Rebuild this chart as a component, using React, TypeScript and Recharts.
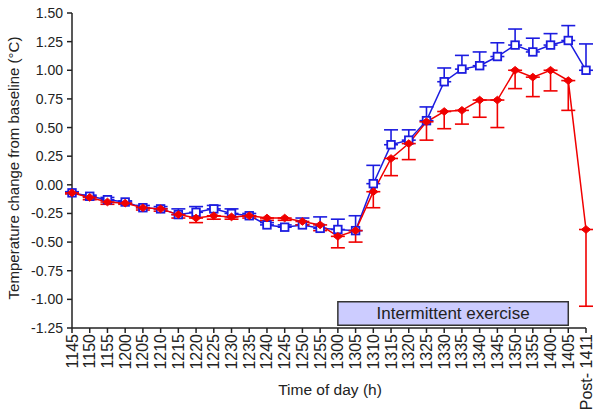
import React from "react";
import { LineChart, Line, XAxis, YAxis, ErrorBar, ReferenceArea } from "recharts";

const times = ["1145","1150","1155","1200","1205","1210","1215","1220","1225","1230","1235","1240","1245","1250","1255","1300","1305","1310","1315","1320","1325","1330","1335","1340","1345","1350","1355","1400","1405","Post- 1411"];

const blueMean = [-0.07,-0.10,-0.13,-0.15,-0.20,-0.21,-0.26,-0.24,-0.21,-0.25,-0.27,-0.35,-0.37,-0.35,-0.38,-0.39,-0.40,0.01,0.35,0.39,0.56,0.90,1.01,1.04,1.12,1.22,1.16,1.22,1.26,1.00];
const blueErrUp = [0.01,0.01,0.02,0.01,0.02,0.02,0.05,0.05,0.03,0.04,0.02,0.02,0.02,0.06,0.10,0.09,0.13,0.16,0.13,0.09,0.12,0.12,0.12,0.12,0.12,0.14,0.12,0.10,0.13,0.23];

const redMean = [-0.07,-0.11,-0.15,-0.16,-0.20,-0.21,-0.26,-0.29,-0.27,-0.28,-0.27,-0.29,-0.29,-0.32,-0.35,-0.45,-0.40,-0.06,0.23,0.36,0.55,0.64,0.65,0.74,0.74,1.00,0.94,1.00,0.91,-0.39];
const redErrDown = [0.01,0.02,0.02,0.01,0.02,0.02,0.03,0.04,0.03,0.02,0.02,0.02,0.02,0.03,0.05,0.10,0.10,0.14,0.15,0.14,0.16,0.15,0.12,0.15,0.24,0.16,0.17,0.18,0.26,0.67];

const yTicks = [1.5,1.25,1,0.75,0.5,0.25,0,-0.25,-0.5,-0.75,-1,-1.25];

const exerciseStart = "1300";
const exerciseEnd = "1405";
const exerciseLabel = "Intermittent exercise";

const BLUE = "#1c1ce0";
const RED = "#f00000";
const FONT = "'Liberation Sans', Arial, Helvetica, sans-serif";

const data = times.map((t, i) => ({
  time: t,
  blue: blueMean[i],
  blueErr: [0, blueErrUp[i]],
  red: redMean[i],
  redErr: [redErrDown[i], 0],
}));

const XTick = (props: any) => {
  const { x, y, payload } = props;
  return (
    <text
      x={x}
      y={y}
      transform={`rotate(-90, ${x}, ${y})`}
      textAnchor="end"
      dominantBaseline="central"
      fontSize={16}
      fontFamily={FONT}
      fill="#222"
    >
      {payload.value}
    </text>
  );
};

const BlueSquare = (props: any) => {
  const { cx, cy, index } = props;
  if (cx == null || cy == null) return <g key={`bs-${index}`} />;
  return (
    <rect
      key={`bs-${index}`}
      x={cx - 3.8}
      y={cy - 3.8}
      width={7.6}
      height={7.6}
      fill="#ffffff"
      stroke={BLUE}
      strokeWidth={1.8}
    />
  );
};

const RedDot = (props: any) => {
  const { cx, cy, index } = props;
  if (cx == null || cy == null) return <g key={`rd-${index}`} />;
  const h = 4.6;
  return (
    <path
      key={`rd-${index}`}
      d={`M${cx - h},${cy} L${cx},${cy - h + 0.8} L${cx + h},${cy} L${cx},${cy + h - 0.8} Z`}
      fill={RED}
      stroke={RED}
      strokeWidth={1}
      strokeLinejoin="round"
    />
  );
};

export default function App() {
  return (
    <div style={{ position: "absolute", left: 0, top: 0, width: 600, height: 412, background: "#fff" }}>
      <LineChart
        width={600}
        height={412}
        data={data}
        margin={{ top: 13, right: 14, left: 12, bottom: 24 }}
      >
        <ReferenceArea
          x1={exerciseStart}
          x2={exerciseEnd}
          y1={-1.225}
          y2={-1.02}
          fill="#ccccff"
          fillOpacity={1}
          stroke="#333"
          strokeWidth={1.5}
          label={{ value: exerciseLabel, position: "center", fill: "#222", fontSize: 17, fontFamily: FONT }}
        />
        <XAxis
          dataKey="time"
          interval={0}
          height={60}
          tickSize={5}
          tickMargin={1}
          tick={<XTick />}
          stroke="#222"
          strokeWidth={1.5}
          label={{
            content: () => (
              <text
                x={330}
                y={389}
                textAnchor="middle"
                dominantBaseline="central"
                fontSize={15.5}
                fontFamily={FONT}
                fill="#222"
              >
                Time of day (h)
              </text>
            ),
          }}
        />
        <YAxis
          type="number"
          domain={[-1.25, 1.5]}
          ticks={yTicks}
          interval={0}
          width={60}
          tickSize={5}
          tickMargin={4}
          tickFormatter={(v: number) => v.toFixed(2)}
          tick={{ fontSize: 14, fontFamily: FONT, fill: "#222" }}
          stroke="#222"
          strokeWidth={1.5}
          label={{
            content: () => (
              <text
                x={13}
                y={168}
                transform="rotate(-90, 13, 168)"
                textAnchor="middle"
                dominantBaseline="central"
                fontSize={15}
                fontFamily={FONT}
                fill="#222"
              >
                Temperature change from baseline (°C)
              </text>
            ),
          }}
        />
        <Line
          dataKey="blue"
          stroke={BLUE}
          strokeWidth={1.5}
          isAnimationActive={false}
          dot={BlueSquare}
          activeDot={false}
        >
          <ErrorBar dataKey="blueErr" direction="y" width={7} stroke={BLUE} strokeWidth={1.6} />
        </Line>
        <Line
          dataKey="red"
          stroke={RED}
          strokeWidth={1.5}
          isAnimationActive={false}
          dot={RedDot}
          activeDot={false}
        >
          <ErrorBar dataKey="redErr" direction="y" width={7} stroke={RED} strokeWidth={1.6} />
        </Line>
      </LineChart>
    </div>
  );
}
